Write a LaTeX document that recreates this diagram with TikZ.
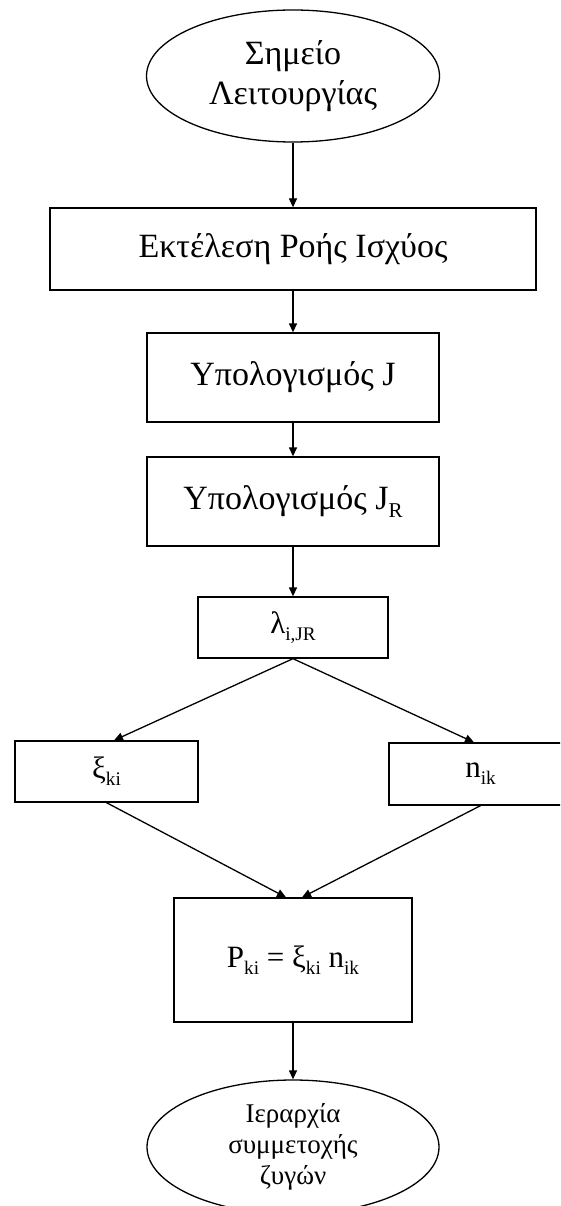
\documentclass[tikz,border=0pt]{standalone}
\usepackage{fontspec}
\setmainfont{Liberation Serif}
\usetikzlibrary{shapes.geometric,arrows.meta}
% lowered, reduced index text
\newcommand\lo[1]{\raisebox{-0.22em}{\scalebox{0.62}{#1}}}
\begin{document}
\begin{tikzpicture}[x=1pt,y=-1pt,
  txt/.style={font=\fontsize{34}{40}\selectfont},
  sym/.style={font=\fontsize{31}{38}\selectfont},
  box/.style={draw, line width=1.3pt, rectangle, inner sep=0pt, align=center, txt},
  oval/.style={draw, line width=1.3pt, ellipse, inner sep=0pt, align=center, txt},
  flow/.style={line width=1.3pt, -{Triangle[length=9pt,width=8pt]}}]
\clip (0,0) rectangle (560,1206);

\node[oval, minimum width=293pt, minimum height=132pt] (start) at (293,76) {Σημείο\\Λειτουργίας};
\node[box, minimum width=486pt, minimum height=82pt] (run) at (293,249) {Εκτέλεση Ροής Ισχύος};
\node[box, minimum width=292pt, minimum height=89pt] (calcJ) at (293,377.5) {Υπολογισμός J};
\node[box, minimum width=292pt, minimum height=89pt] (calcJR) at (293,501.5) {Υπολογισμός J\lo{R}};
\node[box, sym, minimum width=190pt, minimum height=61pt] (lam) at (293,627.5) {λ\lo{i,JR}};
\node[box, sym, minimum width=183pt, minimum height=61pt] (xi) at (106.5,771.5) {ξ\lo{ki}};
\node[box, sym, minimum width=183pt, minimum height=62pt] (nn) at (480.5,774) {n\lo{ik}};
\node[box, sym, minimum width=238pt, minimum height=124pt] (prod) at (293,960) {P\lo{ki} = ξ\lo{ki} n\lo{ik}};
\node[oval, minimum width=292pt, minimum height=134pt, font=\fontsize{27}{31}\selectfont] (rank) at (293,1147) {Ιεραρχία\\συμμετοχής\\ζυγών};

\draw[flow] (start) -- (run);
\draw[flow] (run) -- (calcJ);
\draw[flow] (calcJ) -- (calcJR);
\draw[flow] (calcJR) -- (lam);
\draw[flow] (lam.south) -- ([xshift=7.5pt]xi.north);
\draw[flow] (lam.south) -- ([xshift=-6.5pt]nn.north);
\draw[flow] (xi.south) -- ([xshift=-7pt]prod.north);
\draw[flow] (nn.south) -- ([xshift=9pt]prod.north);
\draw[flow] (prod) -- (rank);
\end{tikzpicture}
\end{document}
